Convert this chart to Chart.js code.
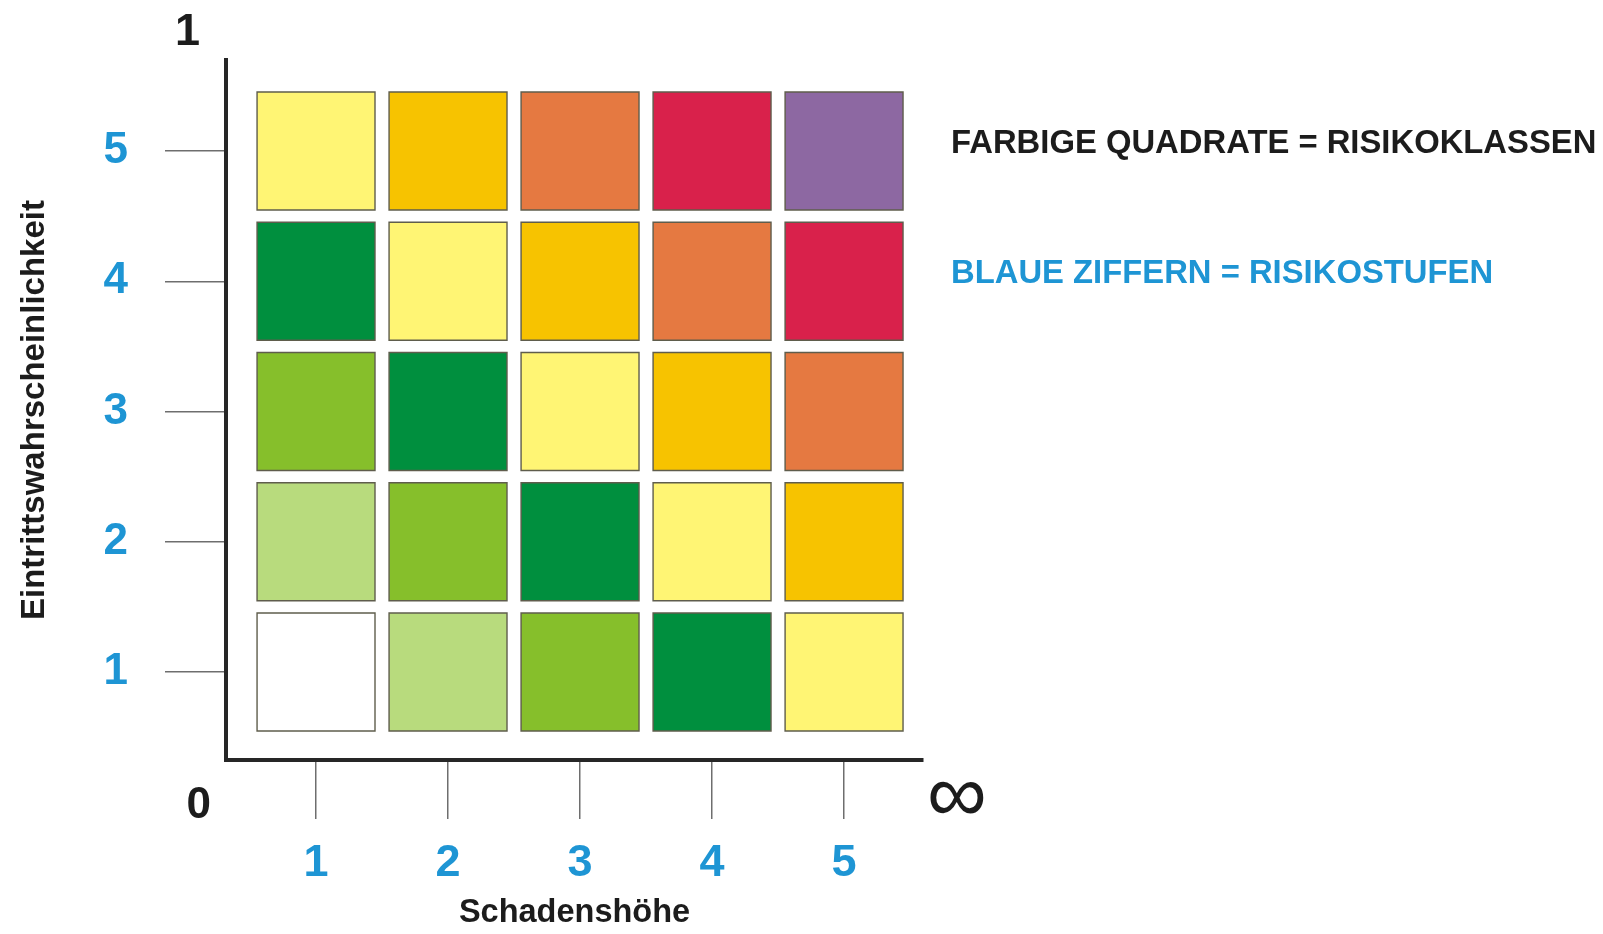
<!DOCTYPE html>
<html><head><meta charset="utf-8">
<script src="https://cdn.jsdelivr.net/npm/chart.js@4.4.1/dist/chart.umd.min.js"></script>
<style>html,body{margin:0;padding:0;background:#fff;overflow:hidden}canvas{display:block}</style>
</head><body>
<canvas id="c" width="1603" height="934"></canvas>
<script>
// ---- data ----
const damageLevels = [1, 2, 3, 4, 5];        // Schadenshöhe (x)
const probabilityLevels = [1, 2, 3, 4, 5];   // Eintrittswahrscheinlichkeit (y)
// risk class of each square; rows = probability 1..5 (bottom to top), cols = damage 1..5
const riskClasses = [
  [1, 2, 3, 4, 5],
  [2, 3, 4, 5, 6],
  [3, 4, 5, 6, 7],
  [4, 5, 6, 7, 8],
  [5, 6, 7, 8, 9]
];
const classColors = ['#FFFFFF', '#B8DB7D', '#86BF2B', '#008F3E', '#FFF574', '#F7C300', '#E57941', '#D9214B', '#8D68A2'];
const xTickLabels = ['1', '2', '3', '4', '5'];
const yTickLabels = ['1', '2', '3', '4', '5'];
const xAxisTitle = 'Schadenshöhe';
const yAxisTitle = 'Eintrittswahrscheinlichkeit';
const axisEndLabels = { yTop: '1', origin: '0', xEnd: '∞' };
const legendLines = ['FARBIGE QUADRATE = RISIKOKLASSEN', 'BLAUE ZIFFERN = RISIKOSTUFEN'];

// ---- build ----
const points = [];
probabilityLevels.forEach((p, r) => {
  damageLevels.forEach((d, c) => {
    points.push({ x: d, y: p, cls: riskClasses[r][c] });
  });
});

const FONT = "'Liberation Sans', Arial, sans-serif";
const BLUE = '#1E95D4';

function drawInk(ctx, text, font, cx, cy, color) {
  ctx.save();
  ctx.font = font;
  ctx.fillStyle = color;
  ctx.textAlign = 'left';
  ctx.textBaseline = 'alphabetic';
  const m = ctx.measureText(text);
  const w = m.actualBoundingBoxLeft + m.actualBoundingBoxRight;
  const h = m.actualBoundingBoxAscent + m.actualBoundingBoxDescent;
  const x = cx - w / 2 + m.actualBoundingBoxLeft;
  const y = cy - h / 2 + m.actualBoundingBoxAscent;
  ctx.fillText(text, x, y);
  ctx.restore();
}

const extras = {
  id: 'extras',
  afterDraw(chart) {
    const ctx = chart.ctx;
    const a = chart.chartArea;
    drawInk(ctx, axisEndLabels.yTop, 'bold 45px ' + FONT, a.left - 38, a.top - 31, '#1c1c1c');
    drawInk(ctx, axisEndLabels.origin, 'bold 44px ' + FONT, a.left - 27.5, a.bottom + 42.5, '#1c1c1c');
    drawInk(ctx, axisEndLabels.xEnd, '84px ' + FONT, a.right + 34, a.bottom + 37.5, '#1c1c1c');
    ctx.save();
    ctx.textAlign = 'left';
    ctx.textBaseline = 'alphabetic';
    ctx.font = 'bold 32.8px ' + FONT;
    ctx.fillStyle = '#1c1c1c';
    ctx.fillText(legendLines[0], a.right + 28, a.top + 93);
    ctx.fillStyle = BLUE;
    ctx.fillText(legendLines[1], a.right + 28, a.top + 223);
    ctx.restore();
  }
};

new Chart(document.getElementById('c'), {
  type: 'scatter',
  data: {
    datasets: [{
      data: points,
      pointStyle: 'rect',
      pointRadius: 83.4,
      pointHoverRadius: 83.4,
      backgroundColor: ctx => classColors[ctx.raw.cls - 1],
      borderColor: '#5f5d4c',
      borderWidth: 1.4,
      hoverBorderWidth: 1.4
    }]
  },
  options: {
    responsive: false,
    devicePixelRatio: 1,
    animation: false,
    events: [],
    layout: { autoPadding: false, padding: { left: 0, top: 60, right: 680, bottom: 0 } },
    plugins: { legend: { display: false }, tooltip: { enabled: false } },
    scales: {
      x: {
        type: 'linear',
        min: 0.318,
        max: 5.598,
        afterFit: s => { s.height = 174; s.paddingLeft = 0; s.paddingRight = 0; },
        afterBuildTicks: s => { s.ticks = damageLevels.map(v => ({ value: v })); },
        grid: { drawOnChartArea: false, drawTicks: true, tickLength: 59, color: '#6e6e6e', lineWidth: 1.5 },
        border: { display: true, color: '#262626', width: 4 },
        ticks: {
          padding: 18,
          color: BLUE,
          font: { family: FONT, size: 45, weight: 'bold' },
          callback: (v) => xTickLabels[damageLevels.indexOf(v)] ?? ''
        },
        title: {
          display: true,
          text: xAxisTitle,
          color: '#1c1c1c',
          font: { family: FONT, size: 32.5, weight: 'bold' },
          padding: { top: 0, bottom: 1 }
        }
      },
      y: {
        type: 'linear',
        min: 0.324,
        max: 5.699,
        afterFit: s => { s.width = 226; s.paddingTop = 0; s.paddingBottom = 0; },
        afterBuildTicks: s => { s.ticks = probabilityLevels.map(v => ({ value: v })); },
        grid: { drawOnChartArea: false, drawTicks: true, tickLength: 61, color: '#6e6e6e', lineWidth: 1.5 },
        border: { display: true, color: '#262626', width: 4 },
        ticks: {
          padding: 37,
          color: BLUE,
          font: { family: FONT, size: 44, weight: 'bold' },
          callback: (v) => yTickLabels[probabilityLevels.indexOf(v)] ?? ''
        },
        title: {
          display: true,
          text: yAxisTitle,
          color: '#1c1c1c',
          font: { family: FONT, size: 33, weight: 'bold' },
          padding: { top: 15, bottom: 0 }
        }
      }
    }
  },
  plugins: [extras]
});
</script>
</body></html>
